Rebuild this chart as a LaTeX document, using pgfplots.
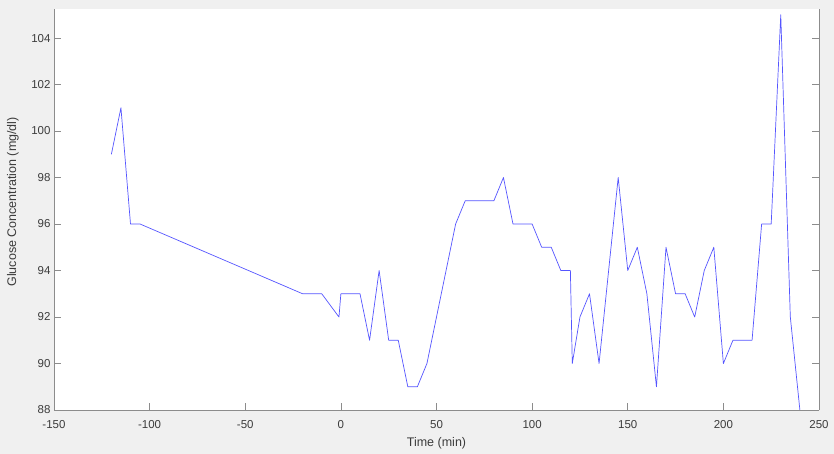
\documentclass[border=0pt]{standalone}
\usepackage{fontspec}
\setmainfont{Liberation Sans}
\usepackage{pgfplots}
\pgfplotsset{compat=1.18}
\definecolor{bgc}{RGB}{240,240,240}
\definecolor{axc}{RGB}{140,140,140}
\definecolor{txc}{RGB}{60,60,60}
\definecolor{lnc}{RGB}{85,85,255}
\begin{document}
\begin{tikzpicture}
\fill[bgc] (0pt,0pt) rectangle (834pt,454pt);
\fill[white] (54pt,44pt) rectangle (819pt,445pt);
\begin{axis}[
  at={(54pt,44pt)}, anchor=south west,
  scale only axis, width=765pt, height=401pt,
  xmin=-150, xmax=250, ymin=88, ymax=105.25,
  axis x line*=bottom, axis y line*=left,
  axis line style={axc, line width=0.7pt},
  xtick={-150,-100,...,250}, ytick={88,90,...,104},
  tick style={axc, line width=0.7pt},
  major tick length=7pt, tick align=inside,
  /pgf/number format/assume math mode=true,
  /pgf/number format/1000 sep={},
  ticklabel style={font=\fontsize{11.5}{13}\selectfont, text=txc},
  xticklabel style={yshift=-7pt},
  xlabel={Time (min)}, ylabel={Glucose Concentration (mg/dl)},
  every axis x label/.style={at={(axis description cs:0.5,-0.082)}, anchor=center, font=\fontsize{12.5}{14}\selectfont, text=txc},
  every axis y label/.style={at={(axis description cs:-0.0536,0.519)}, anchor=center, rotate=90, font=\fontsize{12.5}{14}\selectfont, text=txc},
  clip=true,
]
\addplot[lnc, line width=0.7pt, line join=round] coordinates {
(-120,99) (-115,101) (-110,96) (-105,96) (-20,93) (-10,93) (-1,92) (0,93)
(10,93) (15,91) (20,94) (25,91) (30,91) (35,89) (40,89) (45,90) (60,96)
(65,97) (80,97) (85,98) (90,96) (100,96) (105,95) (110,95) (115,94) (120,94)
(121,90) (125,92) (130,93) (135,90) (145,98) (150,94) (155,95) (160,93)
(165,89) (170,95) (175,93) (180,93) (185,92) (190,94) (195,95) (200,90)
(205,91) (215,91) (220,96) (225,96) (230,105) (235,92) (240,88)
};
\end{axis}
\begin{axis}[
  at={(54pt,44pt)}, anchor=south west,
  scale only axis, width=765pt, height=401pt,
  xmin=-150, xmax=250, ymin=88, ymax=105.25,
  axis y line*=right, axis x line=none,
  axis line style={axc, line width=0.7pt},
  ytick={88,90,...,104}, yticklabels={},
  tick style={axc, line width=0.7pt},
  major tick length=7pt, tick align=inside,
]
\end{axis}
\end{tikzpicture}
\end{document}
